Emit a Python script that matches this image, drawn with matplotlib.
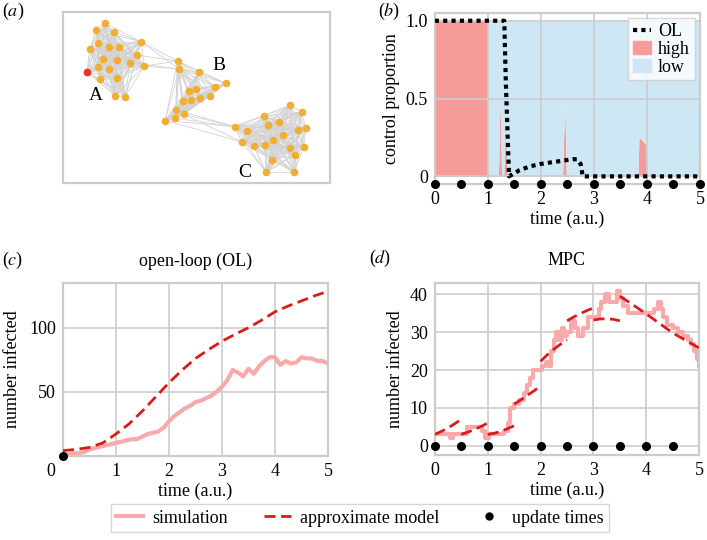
import itertools
import matplotlib

matplotlib.use("Agg")
import matplotlib.pyplot as plt
from matplotlib.collections import LineCollection
from matplotlib.lines import Line2D
from matplotlib.patches import Patch

plt.rcParams["font.family"] = "serif"
plt.rcParams["font.serif"] = ["Liberation Serif", "DejaVu Serif"]
plt.rcParams["mathtext.fontset"] = "stix"

# ---- (a) network layout (arbitrary layout units) ----
clus_a = [(313, 68), (287, 90), (340, 95), (423, 125), (292, 130), (268, 148), (327, 142),
          (355, 142), (410, 165), (308, 178), (351, 180), (390, 188), (432, 198), (293, 200),
          (327, 208), (260, 215), (300, 238), (350, 235), (345, 287), (375, 290)]
clus_b = [(532, 183), (537, 207), (595, 217), (677, 250), (645, 262), (588, 267), (565, 272),
          (630, 287), (598, 295), (572, 300), (548, 302), (528, 330), (550, 343), (525, 355),
          (495, 362)]
clus_c = [(870, 316), (904, 336), (790, 349), (804, 374), (836, 366), (917, 385), (703, 380),
          (740, 392), (892, 391), (848, 405), (818, 420), (794, 436), (760, 438), (725, 426),
          (868, 445), (910, 443), (885, 465), (816, 480), (798, 518), (882, 518)]
seed_node = 15  # infected node in cluster A
links_ab = [(3, 0), (3, 1), (12, 0), (12, 1), (8, 0), (11, 1)]
links_bc = [(14, 6), (13, 6), (12, 6), (14, 13), (12, 13), (11, 6)]

# ---- (b) control proportion ----
t_ctrl = [0, 0.999, 1.0, 1.2, 1.23, 1.26, 1.30, 1.33, 1.36, 2.41, 2.45, 2.48,
          3.83, 3.85, 3.92, 3.98, 4.0, 4.96, 5.0]
high_prop = [1, 1, 0, 0, 0.5, 0, 0, 0.35, 0, 0, 0.5, 0,
             0, 0.25, 0.23, 0.2, 0, 0, 0.55]
t_ol = [0, 1.31, 1.34, 1.40, 1.45, 1.6, 1.8, 2.0, 2.2, 2.4, 2.6, 2.68, 2.75, 2.79, 5.0]
ol_ctrl = [1, 1, 0.6, 0.0, 0.01, 0.04, 0.065, 0.08, 0.09, 0.1, 0.11, 0.11, 0.08, 0.0, 0.0]
update_times = [0, 0.5, 1, 1.5, 2, 2.5, 3, 3.5, 4, 4.5, 5]

# ---- (c) open loop ----
t_sim_ol = [i / 10 for i in range(51)]
sim_ol = [1, 1, 2, 2, 3, 5, 6, 7, 8, 9, 10, 11, 12, 13, 13, 15, 17, 18, 19, 22, 27,
          31, 34, 37, 39, 42, 43, 45, 47, 50, 54, 59, 67, 65, 62, 68, 64, 70, 74, 77, 77,
          71, 74, 72, 73, 77, 76, 76, 74, 74, 72]
t_model_ol = [0, 0.25, 0.5, 0.75, 1.0, 1.25, 1.5, 1.75, 2.0, 2.25, 2.5, 2.75, 3.0,
              3.25, 3.5, 3.75, 4.0, 4.25, 4.5, 4.75, 5.0]
model_ol = [4, 5, 6.5, 10, 17, 25, 35, 46, 57, 67, 76, 83, 89.5, 95, 100, 106, 112.5,
            117, 121, 125, 128.5]

# ---- (d) MPC ----
t_sim_mpc = [0, 0.28, 0.35, 0.6, 0.9, 0.95, 1.02, 1.3, 1.38, 1.43, 1.5, 1.6, 1.68, 1.75,
             1.8, 1.85, 1.95, 2.03, 2.1, 2.15, 2.2, 2.25, 2.3, 2.35, 2.4, 2.45, 2.5, 2.58,
             2.65, 2.7, 2.8, 2.9, 3.0, 3.1, 3.15, 3.22, 3.3, 3.4, 3.45, 3.5, 3.55, 3.65,
             3.75, 3.9, 4.05, 4.15, 4.22, 4.27, 4.32, 4.4, 4.5, 4.6, 4.7, 4.78, 4.84, 4.9,
             4.95, 5.0]
sim_mpc = [3, 2, 3, 5, 4, 2, 3, 4, 6, 10, 11, 12, 14, 16, 18, 20, 20, 21, 22, 21, 25, 28,
           30, 28, 31, 29, 30, 33, 31, 29, 31, 34, 34, 36, 38, 40, 38, 38, 41, 39, 37, 35,
           35, 35, 35, 36, 38, 36, 34, 32, 31, 30, 29, 28, 27, 25, 23, 21]
mpc_seg_t = [[0, 0.125, 0.25, 0.375, 0.5], [0.5, 0.625, 0.75, 0.875, 1.0],
             [1.0, 1.125, 1.25, 1.375, 1.5], [1.5, 1.625, 1.75, 1.875, 2.0],
             [2.0, 2.125, 2.25, 2.375, 2.5], [2.5, 2.625, 2.75, 2.875, 3.0],
             [3.0, 3.125, 3.25, 3.375, 3.5], [3.5, 3.75, 4.0, 4.25, 4.5, 4.75, 5.0]]
mpc_seg_v = [[3.0, 3.8, 4.7, 5.8, 7.0], [3.0, 3.6, 4.3, 5.1, 6.0],
             [3.0, 3.3, 3.8, 4.5, 5.3], [11.0, 12.1, 13.3, 14.5, 15.8],
             [22.3, 24.0, 25.5, 26.8, 28.0], [33.0, 34.0, 34.9, 35.7, 36.4],
             [33.2, 33.5, 33.5, 33.4, 33.0], [39.5, 37.2, 34.8, 32.3, 29.8, 27.8, 25.8]]
mpc_updates = [0, 0.5, 1, 1.5, 2, 2.5, 3, 3.5, 4, 4.5]

SIM_C = "#f8aaaa"
MODEL_C = "#dd1a1a"
GRID_C = "#cccccc"
HIGH_C = "#f79a9a"
LOW_C = "#cde8f4"

fig = plt.figure(figsize=(7.07, 5.4), dpi=100)
ax_a = fig.add_axes([0.089, 0.661, 0.378, 0.317])
ax_b = fig.add_axes([0.615, 0.659, 0.375, 0.317])
ax_c = fig.add_axes([0.089, 0.156, 0.375, 0.320])
ax_d = fig.add_axes([0.615, 0.157, 0.374, 0.319])


def style(ax):
    ax.grid(True, color=GRID_C, lw=1.2)
    for s in ax.spines.values():
        s.set_color(GRID_C)
        s.set_linewidth(1.6)
    ax.tick_params(length=0, labelsize=13, pad=5)


# (a)
nodes = clus_a + clus_b + clus_c
segs = []
for cl in (clus_a, clus_b, clus_c):
    for p, q in itertools.combinations(cl, 2):
        segs.append([p, q])
for i, j in links_ab:
    segs.append([clus_a[i], clus_b[j]])
for i, j in links_bc:
    segs.append([clus_b[i], clus_c[j]])
ax_a.add_collection(LineCollection(segs, colors="#d3d3d3", linewidths=0.6, zorder=1))
ax_a.scatter([p[0] for p in nodes], [p[1] for p in nodes], s=30, color="#f2ae33",
             zorder=2, linewidths=0)
ax_a.scatter([clus_a[seed_node][0]], [clus_a[seed_node][1]], s=30, color="#e8322c",
             zorder=3, linewidths=0)
ax_a.text(287, 287, "A", fontsize=14, ha="center", va="center")
ax_a.text(655, 195, "B", fontsize=14, ha="center", va="center")
ax_a.text(733, 518, "C", fontsize=14, ha="center", va="center")
ax_a.set_xlim(188, 990)
ax_a.set_ylim(550, 35)
ax_a.set_xticks([])
ax_a.set_yticks([])
for s in ax_a.spines.values():
    s.set_color(GRID_C)
    s.set_linewidth(1.6)

# (b)
style(ax_b)
ax_b.fill_between(t_ctrl, 0, high_prop, color=HIGH_C, lw=0, label="high", zorder=1)
ax_b.fill_between(t_ctrl, high_prop, 1, color=LOW_C, lw=0, label="low", zorder=1)
ax_b.set_axisbelow(False)
ax_b.plot(t_ol, ol_ctrl, color="black", lw=3, ls=(0, (1, 1)), zorder=4, label="OL")
ax_b.plot(update_times, [-0.05] * len(update_times), "o", color="black", ms=5.5,
          clip_on=False, zorder=5)
ax_b.set_xlim(0, 5)
ax_b.set_ylim(-0.05, 1.05)
ax_b.set_yticks([0, 0.5, 1.0])
ax_b.set_yticklabels(["0", "0.5", "1.0"])
ax_b.set_xticks(range(6))
ax_b.set_xlabel("time (a.u.)", fontsize=13, labelpad=2)
ax_b.set_ylabel("control proportion", fontsize=13, labelpad=4)
ax_b.legend(handles=[Line2D([], [], color="black", lw=3, ls=(0, (1, 1))),
                     Patch(color=HIGH_C), Patch(color=LOW_C)],
            labels=["OL", "high", "low"], loc="upper right", fontsize=13,
            handlelength=1.0, handletextpad=0.4, labelspacing=0.05, borderpad=0.25,
            fancybox=False, edgecolor=GRID_C, framealpha=0.8, borderaxespad=0.3)

# (c)
style(ax_c)
ax_c.plot(t_sim_ol, sim_ol, color=SIM_C, lw=3, zorder=2)
ax_c.plot(t_model_ol, model_ol, color=MODEL_C, lw=2, ls=(0, (4, 2)), zorder=3)
ax_c.plot([0], [0], "o", color="black", ms=5.5, clip_on=False, zorder=5)
ax_c.set_xlim(0, 5)
ax_c.set_ylim(0, 135)
ax_c.set_yticks([50, 100])
ax_c.set_xticks([1, 2, 3, 4, 5])
ax_c.set_xticks([0], minor=True)
ax_c.annotate("0", xy=(0, 0), xycoords=("data", "axes fraction"), xytext=(-9, -5),
              textcoords="offset points", ha="center", va="top", fontsize=13)
ax_c.set_xlabel("time (a.u.)", fontsize=13, labelpad=2)
ax_c.set_ylabel("number infected", fontsize=13, labelpad=6)
ax_c.set_title("open-loop (OL)", fontsize=13, pad=12)

# (d)
style(ax_d)
ax_d.plot(t_sim_mpc, sim_mpc, color=SIM_C, lw=3, drawstyle="steps-post", zorder=2)
for ts, vs in zip(mpc_seg_t, mpc_seg_v):
    ax_d.plot(ts, vs, color=MODEL_C, lw=2, ls=(0, (4, 2)), zorder=3)
ax_d.plot(mpc_updates, [0] * len(mpc_updates), "o", color="black", ms=5.5,
          clip_on=False, zorder=5)
ax_d.set_xlim(0, 5)
ax_d.set_ylim(-2.5, 43)
ax_d.set_yticks([0, 10, 20, 30, 40])
ax_d.set_xticks(range(6))
ax_d.set_xlabel("time (a.u.)", fontsize=13, labelpad=2)
ax_d.set_ylabel("number infected", fontsize=13, labelpad=4)
ax_d.set_title("MPC", fontsize=13, pad=13)

# panel letters
for x, y, letter in [(0.003, 0.978, "a"), (0.535, 0.978, "b"),
                     (0.003, 0.518, "c"), (0.522, 0.522, "d")]:
    fig.text(x, y, "($" + letter + "$)", fontsize=13, ha="left", va="center")

fig.legend(handles=[Line2D([], [], color=SIM_C, lw=3),
                    Line2D([], [], color=MODEL_C, lw=2, ls=(0, (4, 2))),
                    Line2D([], [], color="black", marker="o", ms=5, ls="none")],
           labels=["simulation", "approximate model", "update times"],
           loc="lower center", bbox_to_anchor=(0.509, -0.002), ncol=3, fontsize=13,
           fancybox=False, edgecolor=GRID_C, handlelength=1.5, columnspacing=2.0,
           handletextpad=0.5, borderpad=0.3)

fig.savefig("out.png", dpi=100)
